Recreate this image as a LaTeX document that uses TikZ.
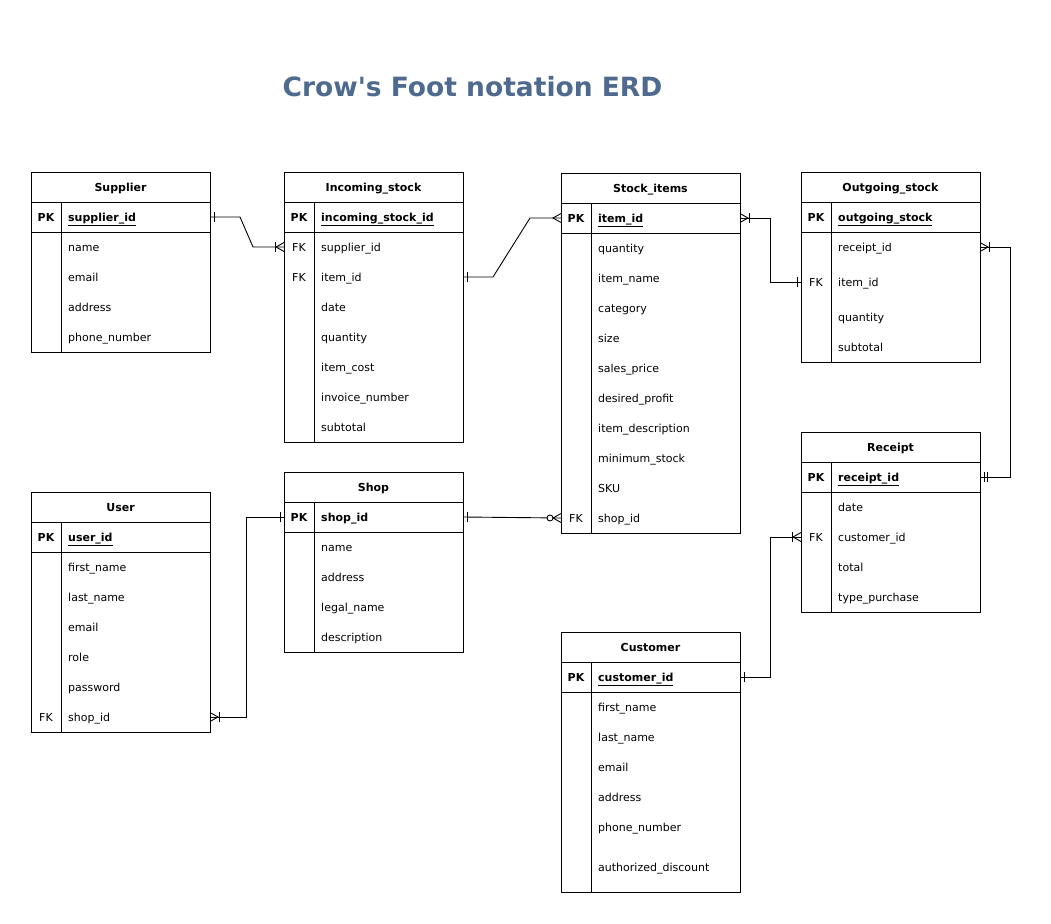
\documentclass[tikz,border=0pt]{standalone}
\usepackage{fontspec}
\setmainfont{DejaVu Sans}
\newfontfamily\titlefont{DejaVu Sans}[Ligatures=TeXOff]
\definecolor{titleblue}{RGB}{79,106,143}
\tikzset{
  conn/.style={draw=black, line width=0.9pt},
  tblbox/.style={draw=black, line width=0.9pt, anchor=north west, minimum width=179pt, inner sep=0pt, outer sep=0pt},
  rowbox/.style={minimum width=179pt, minimum height=30pt, inner sep=0pt, outer sep=0pt},
  hdrtxt/.style={font=\fontsize{11}{13}\selectfont\bfseries, inner sep=0pt, text height=10pt, text depth=1.5pt},
  keytxt/.style={font=\fontsize{11}{13}\selectfont, inner sep=0pt, text height=10pt, text depth=1.5pt},
  fldtxt/.style={font=\fontsize{11}{13}\selectfont, anchor=west, inner sep=0pt, text height=10pt, text depth=1.5pt},
  titletxt/.style={font=\titlefont\fontsize{26.5}{30}\selectfont\bfseries, text=titleblue, inner sep=0pt}
}
\newcommand\ertable[5]{%
  \node[tblbox, minimum height=#4pt] (#1) at (#2,#3) {};
  \node[hdrtxt] (#1-title) at (#2+89.5,#3+15) {#5};
  \draw[conn] (#2,#3+30) -- (#2+179,#3+30);
  \draw[conn] (#2,#3+60) -- (#2+179,#3+60);
  \draw[conn] (#2+30,#3+30) -- (#2+30,#3+#4);
}
\newcommand\errow[5]{%
  \node[rowbox] (#1) at (#2+89.5,#3) {};
  \node[keytxt] (#1-k) at (#2+15,#3) {#4};
  \node[fldtxt] (#1-t) at (#2+37,#3) {#5};
}
\newcommand\pkrow[4]{\errow{#1}{#2}{#3}{\bfseries PK}{\bfseries\underline{#4}}}
\newcommand\mkone[2]{\draw[conn] ([xshift=#2*4pt, yshift=5pt]#1) -- ([xshift=#2*4pt, yshift=-5pt]#1);}
\newcommand\mktwo[2]{\draw[conn] ([xshift=#2*4pt, yshift=5pt]#1) -- ([xshift=#2*4pt, yshift=-5pt]#1);
  \draw[conn] ([xshift=#2*7pt, yshift=5pt]#1) -- ([xshift=#2*7pt, yshift=-5pt]#1);}
\newcommand\mkmany[2]{\draw[conn] ([yshift=4.5pt]#1) -- ([xshift=#2*8pt]#1) -- ([yshift=-4.5pt]#1);}
\newcommand\mkonemany[2]{\mkmany{#1}{#2}\draw[conn] ([xshift=#2*9pt, yshift=5pt]#1) -- ([xshift=#2*9pt, yshift=-5pt]#1);}
\newcommand\mkzeromany[2]{\mkmany{#1}{#2}\draw[conn, fill=white] ([xshift=#2*11pt]#1) circle (3pt);}
\begin{document}
\begin{tikzpicture}[x=1pt, y=-1pt]
\useasboundingbox (0,0) rectangle (1051,923);
\node[titletxt] (title) at (472.5,87) {Crow's Foot notation ERD};

% Supplier
\ertable{supplier}{31}{172}{180}{Supplier}
\pkrow{sup-pk}{31}{217}{supplier\_id}
\errow{sup-r1}{31}{247}{}{name}
\errow{sup-r2}{31}{277}{}{email}
\errow{sup-r3}{31}{307}{}{address}
\errow{sup-r4}{31}{337}{}{phone\_number}

% Incoming_stock
\ertable{incoming}{284}{172}{270}{Incoming\_stock}
\pkrow{inc-pk}{284}{217}{incoming\_stock\_id}
\errow{inc-sup}{284}{247}{FK}{supplier\_id}
\errow{inc-item}{284}{277}{FK}{item\_id}
\errow{inc-r3}{284}{307}{}{date}
\errow{inc-r4}{284}{337}{}{quantity}
\errow{inc-r5}{284}{367}{}{item\_cost}
\errow{inc-r6}{284}{397}{}{invoice\_number}
\errow{inc-r7}{284}{427}{}{subtotal}

% Stock_items
\ertable{stock}{561}{173}{360}{Stock\_items}
\pkrow{stk-pk}{561}{218}{item\_id}
\errow{stk-r1}{561}{248}{}{quantity}
\errow{stk-r2}{561}{278}{}{item\_name}
\errow{stk-r3}{561}{308}{}{category}
\errow{stk-r4}{561}{338}{}{size}
\errow{stk-r5}{561}{368}{}{sales\_price}
\errow{stk-r6}{561}{398}{}{desired\_profit}
\errow{stk-r7}{561}{428}{}{item\_description}
\errow{stk-r8}{561}{458}{}{minimum\_stock}
\errow{stk-r9}{561}{488}{}{SKU}
\errow{stk-shop}{561}{518}{FK}{shop\_id}

% Outgoing_stock
\ertable{outgoing}{801}{172}{190}{Outgoing\_stock}
\pkrow{out-pk}{801}{217}{outgoing\_stock}
\errow{out-rec}{801}{247}{}{receipt\_id}
\errow{out-item}{801}{282}{FK}{item\_id}
\errow{out-r3}{801}{317}{}{quantity}
\errow{out-r4}{801}{347}{}{subtotal}

% Receipt
\ertable{receipt}{801}{432}{180}{Receipt}
\pkrow{rcp-pk}{801}{477}{receipt\_id}
\errow{rcp-r1}{801}{507}{}{date}
\errow{rcp-cus}{801}{537}{FK}{customer\_id}
\errow{rcp-r3}{801}{567}{}{total}
\errow{rcp-r4}{801}{597}{}{type\_purchase}

% User
\ertable{user}{31}{492}{240}{User}
\pkrow{usr-pk}{31}{537}{user\_id}
\errow{usr-r1}{31}{567}{}{first\_name}
\errow{usr-r2}{31}{597}{}{last\_name}
\errow{usr-r3}{31}{627}{}{email}
\errow{usr-r4}{31}{657}{}{role}
\errow{usr-r5}{31}{687}{}{password}
\errow{usr-shop}{31}{717}{FK}{shop\_id}

% Shop
\ertable{shop}{284}{472}{180}{Shop}
\errow{shop-pk}{284}{517}{\bfseries PK}{\bfseries shop\_id}
\errow{shop-r1}{284}{547}{}{name}
\errow{shop-r2}{284}{577}{}{address}
\errow{shop-r3}{284}{607}{}{legal\_name}
\errow{shop-r4}{284}{637}{}{description}

% Customer
\ertable{customer}{561}{632}{260}{Customer}
\pkrow{cus-pk}{561}{677}{customer\_id}
\errow{cus-r1}{561}{707}{}{first\_name}
\errow{cus-r2}{561}{737}{}{last\_name}
\errow{cus-r3}{561}{767}{}{email}
\errow{cus-r4}{561}{797}{}{address}
\errow{cus-r5}{561}{827}{}{phone\_number}
\errow{cus-r6}{561}{867}{}{authorized\_discount}

% Connectors
\draw[conn] (sup-pk.east) -- ++(30,0) -- ([xshift=-31pt]inc-sup.west) -- (inc-sup.west);
\draw[conn] (inc-item.east) -- ++(30,0) -- ([xshift=-31pt]stk-pk.west) -- (stk-pk.west);
\draw[conn] (stk-pk.east) -- ++(30,0) |- (out-item.west);
\draw[conn] (out-rec.east) -- ++(30,0) |- (rcp-pk.east);
\draw[conn] (cus-pk.east) -- ++(30,0) |- (rcp-cus.west);
\draw[conn] (shop-pk.east) -- (stk-shop.west);
\draw[conn] (usr-shop.east) -- ++(36,0) |- (shop-pk.west);

% Markers
\mkone{sup-pk.east}{1}
\mkonemany{inc-sup.west}{-1}
\mkone{inc-item.east}{1}
\mkmany{stk-pk.west}{-1}
\mkonemany{stk-pk.east}{1}
\mkone{out-item.west}{-1}
\mkonemany{out-rec.east}{1}
\mktwo{rcp-pk.east}{1}
\mkone{cus-pk.east}{1}
\mkonemany{rcp-cus.west}{-1}
\mkone{shop-pk.east}{1}
\mkzeromany{stk-shop.west}{-1}
\mkonemany{usr-shop.east}{1}
\mkone{shop-pk.west}{-1}
\end{tikzpicture}
\end{document}
